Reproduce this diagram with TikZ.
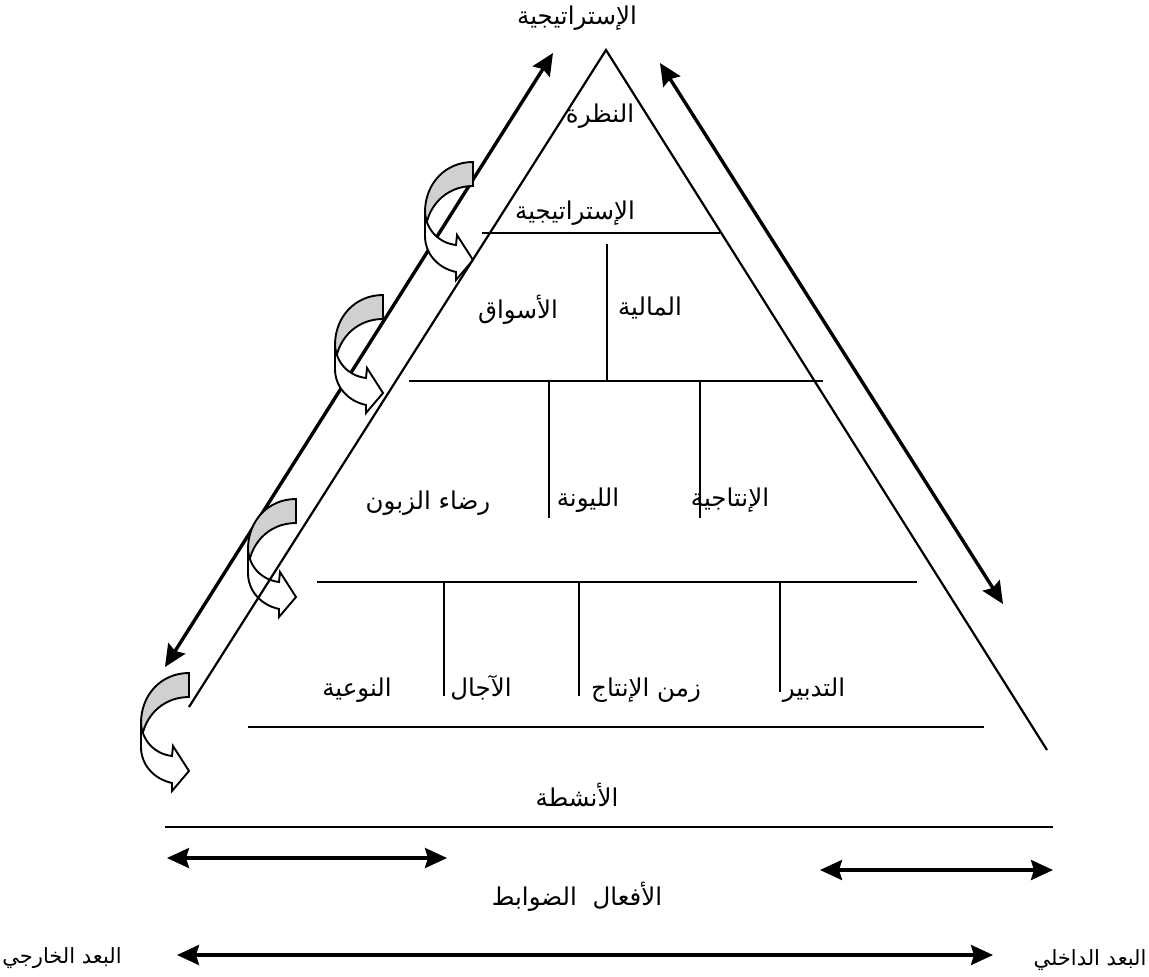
\documentclass[tikz,border=0pt]{standalone}
\usepackage{fontspec}
\newfontfamily\arabicfont[Script=Arabic]{DejaVu Sans}
\TeXXeTstate=1
\usetikzlibrary{arrows.meta}
\definecolor{bandgray}{RGB}{208,208,208}
\begin{document}
\begin{tikzpicture}[x=1pt,y=-1pt,
  lbl/.style={font=\arabicfont\fontsize{24.5}{28}\selectfont, inner sep=0pt, anchor=center},
  lblsm/.style={font=\arabicfont\fontsize{21}{24}\selectfont, inner sep=0pt, anchor=center},
  tri/.style={line width=2.2pt},
  hline/.style={line width=2.5pt},
  vline/.style={line width=2.2pt},
  dbl/.style={line width=3.4pt, {Stealth[length=22pt,width=20pt,inset=3pt]}-{Stealth[length=22pt,width=20pt,inset=3pt]}},
  band/.style={line width=1.9pt, draw=black, line join=miter},
  curvarr/.pic={
    \filldraw[band, fill=bandgray] (0,0) .. controls (-28,0) and (-48,22) .. (-48,50)
      -- (-48,74) .. controls (-48,46) and (-28,24) .. (0,24) -- cycle;
    \filldraw[band, fill=white] (-48,50) .. controls (-47,68) and (-34,81) .. (-17,83)
      -- (-16,73) -- (0,98) -- (-17,118) -- (-17,110)
      .. controls (-35,106) and (-48,92) .. (-48,74) -- cycle;
  }]
\useasboundingbox (0,0) rectangle (1149,977);
% coordinates
\coordinate (apex) at (606,50);
\coordinate (lb) at (189,707);
\coordinate (rb) at (1047,750);
\coordinate (la1) at (165,667); \coordinate (la2) at (553,53);
\coordinate (ra1) at (660,63);  \coordinate (ra2) at (1003,604);
% left double arrow (behind the curved arrows)
\draw[dbl] (la1) -- (la2);
% curved arrows
\pic at (473,162) {curvarr};
\pic at (383,295) {curvarr};
\pic at (296,499) {curvarr};
\pic at (189,673) {curvarr};
% triangle sides
\draw[tri] (lb) -- (apex) -- (rb);
% right double arrow
\draw[dbl] (ra1) -- (ra2);
% horizontal levels
\coordinate (h1a) at (482,233); \coordinate (h1b) at (720,233);
\coordinate (h2a) at (409,381); \coordinate (h2b) at (823,381);
\coordinate (h3a) at (317,582); \coordinate (h3b) at (917,582);
\coordinate (h4a) at (248,727); \coordinate (h4b) at (984,727);
\coordinate (h5a) at (165,827); \coordinate (h5b) at (1053,827);
\draw[hline] (h1a) -- (h1b);
\draw[hline] (h2a) -- (h2b);
\draw[hline] (h3a) -- (h3b);
\draw[hline] (h4a) -- (h4b);
\draw[hline] (h5a) -- (h5b);
% verticals
\coordinate (v1a) at (607,244); \coordinate (v1b) at (607,381);
\coordinate (v2a) at (549,381); \coordinate (v2b) at (549,518);
\coordinate (v3a) at (700,381); \coordinate (v3b) at (700,518);
\coordinate (v4a) at (444,582); \coordinate (v4b) at (444,696);
\coordinate (v5a) at (579,582); \coordinate (v5b) at (579,696);
\coordinate (v6a) at (780,582); \coordinate (v6b) at (780,692);
\draw[vline] (v1a) -- (v1b);
\draw[vline] (v2a) -- (v2b);
\draw[vline] (v3a) -- (v3b);
\draw[vline] (v4a) -- (v4b);
\draw[vline] (v5a) -- (v5b);
\draw[vline] (v6a) -- (v6b);
% bottom arrows
\coordinate (b1a) at (167,858); \coordinate (b1b) at (447,858);
\coordinate (b2a) at (820,870); \coordinate (b2b) at (1053,870);
\coordinate (b3a) at (177,955); \coordinate (b3b) at (993,955);
\draw[dbl] (b1a) -- (b1b);
\draw[dbl] (b2a) -- (b2b);
\draw[dbl] (b3a) -- (b3b);
% labels
\node[lbl] (strat0) at (577,18) {\beginR الإستراتيجية\endR};
\node[lbl] (vision) at (600,116) {\beginR النظرة\endR};
\node[lbl] (strat) at (575,213) {\beginR الإستراتيجية\endR};
\node[lbl] (markets) at (518,310) {\beginR الأسواق\endR};
\node[lbl] (finance) at (650,308) {\beginR المالية\endR};
\node[lbl] (cust) at (428,503) {\beginR رضاء الزبون\endR};
\node[lbl] (flex) at (588,500) {\beginR الليونة\endR};
\node[lbl] (prod) at (730,500) {\beginR الإنتاجية\endR};
\node[lbl] (quality) at (357,690) {\beginR النوعية\endR};
\node[lbl] (delays) at (481,688) {\beginR الآجال\endR};
\node[lbl] (ptime) at (646,690) {\beginR زمن الإنتاج\endR};
\node[lbl] (mgmt) at (814,690) {\beginR التدبير\endR};
\node[lbl] (acts) at (577,795) {\beginR الأنشطة\endR};
\node[lbl] (ctrl) at (577,897) {\beginR الأفعال\ \ الضوابط\endR};
\node[lblsm] (ext) at (62,958) {\beginR البعد الخارجي\endR};
\node[lblsm] (int) at (1090,960) {\beginR البعد الداخلي\endR};
\end{tikzpicture}
\end{document}
